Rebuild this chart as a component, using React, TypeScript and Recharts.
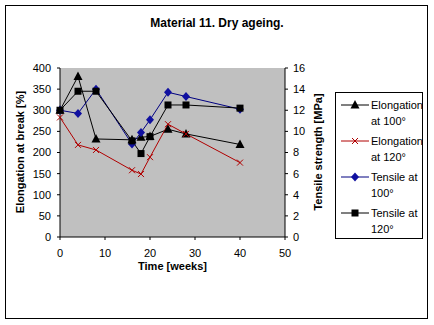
import { CartesianGrid, ComposedChart, Line, XAxis, YAxis } from "recharts";

const weeks = [0, 4, 8, 16, 18, 20, 24, 28, 40];
const elong100 = [300, 380, 232, 230, 236, 238, 255, 244, 219];
const elong120 = [283, 218, 206, 158, 149, 189, 267, 244, 176];
const tensile100 = [12, 11.7, 14.0, 8.8, 9.9, 11.1, 13.7, 13.3, 12.1];
const tensile120 = [12, 13.8, 13.8, 9.1, 7.9, 9.5, 12.5, 12.5, 12.2];

const xTicks = [0, 10, 20, 30, 40, 50];
const leftTicks = [0, 50, 100, 150, 200, 250, 300, 350, 400];
const rightTicks = [0, 2, 4, 6, 8, 10, 12, 14, 16];

const data = weeks.map((w, i) => ({
  week: w,
  e100: elong100[i],
  e120: elong120[i],
  t100: tensile100[i],
  t120: tensile120[i],
}));

const FONT = "'Liberation Sans', Arial, sans-serif";
const TICK = { fill: "#000", fontSize: 11, fontFamily: FONT };
const RED = "#b00000";
const NAVY = "#000080";

type Mark = "tri" | "x" | "diamond" | "square";

function marker(kind: Mark, cx: number, cy: number, key?: string) {
  if (kind === "tri")
    return <path key={key} d={`M${cx},${cy - 5}L${cx + 4.5},${cy + 3.5}L${cx - 4.5},${cy + 3.5}Z`} fill="#000" />;
  if (kind === "x")
    return (
      <path
        key={key}
        d={`M${cx - 3},${cy - 3}L${cx + 3},${cy + 3}M${cx - 3},${cy + 3}L${cx + 3},${cy - 3}`}
        stroke={RED}
        strokeWidth={1}
        fill="none"
      />
    );
  if (kind === "diamond")
    return <path key={key} d={`M${cx},${cy - 4.5}L${cx + 4},${cy}L${cx},${cy + 4.5}L${cx - 4},${cy}Z`} fill="#1010a0" />;
  return <rect key={key} x={cx - 3.5} y={cy - 3.5} width={7} height={7} fill="#000" />;
}

const dot = (kind: Mark) => (p: any) => marker(kind, p.cx, p.cy, `${kind}-${p.index}`);

const legendItems: { label: [string, string]; color: string; kind: Mark }[] = [
  { label: ["Elongation", "at 100°"], color: "#000", kind: "tri" },
  { label: ["Elongation", "at 120°"], color: RED, kind: "x" },
  { label: ["Tensile at", "100°"], color: NAVY, kind: "diamond" },
  { label: ["Tensile at", "120°"], color: "#000", kind: "square" },
];

function LegendBox() {
  return (
    <div
      style={{
        position: "absolute",
        left: 335,
        top: 92,
        width: 88,
        height: 147,
        border: "1px solid #000",
        background: "#fff",
        boxSizing: "border-box",
      }}
    >
      {legendItems.map((it, i) => (
        <div key={i} style={{ position: "absolute", left: 0, top: 4 + i * 36 }}>
          <svg width={30} height={16} style={{ position: "absolute", left: 4, top: 0 }}>
            <line x1={1} y1={8} x2={29} y2={8} stroke={it.color} strokeWidth={1} />
            {marker(it.kind, 15, 8)}
          </svg>
          <div
            style={{
              position: "absolute",
              left: 35,
              top: 0,
              fontFamily: FONT,
              fontSize: 11,
              lineHeight: "16px",
              whiteSpace: "nowrap",
              color: "#000",
            }}
          >
            {it.label[0]}
            <br />
            {it.label[1]}
          </div>
        </div>
      ))}
    </div>
  );
}

export default function App() {
  return (
    <div style={{ position: "absolute", left: 0, top: 0, width: 434, height: 325, background: "#fff" }}>
      <div
        style={{
          position: "absolute",
          left: 5,
          top: 5,
          width: 423,
          height: 314,
          border: "1px solid #000",
          boxSizing: "border-box",
        }}
      />
      <div
        style={{
          position: "absolute",
          left: 0,
          width: 434,
          top: 16,
          textAlign: "center",
          fontFamily: FONT,
          fontWeight: "bold",
          fontSize: 12,
        }}
      >
        Material 11. Dry ageing.
      </div>
      <div style={{ position: "absolute", left: 0, top: 0 }}>
        <ComposedChart width={434} height={325} data={data} margin={{ top: 68, right: 89, left: 0, bottom: 58 }}>
          <CartesianGrid fill="#c0c0c0" horizontal={false} vertical={false} />
          <XAxis
            dataKey="week"
            type="number"
            domain={[0, 50]}
            ticks={xTicks}
            interval={0}
            height={30}
            tick={TICK}
            tickSize={3}
            tickMargin={9}
            stroke="#000"
          />
          <YAxis
            yAxisId="left"
            domain={[0, 400]}
            ticks={leftTicks}
            interval={0}
            width={60}
            tick={TICK}
            tickSize={3}
            tickMargin={6}
            stroke="#000"
          />
          <YAxis
            yAxisId="right"
            orientation="right"
            domain={[0, 16]}
            ticks={rightTicks}
            interval={0}
            width={60}
            tick={{ ...TICK, textAnchor: "start" }}
            tickSize={3}
            tickMargin={5}
            stroke="#000"
          />
          <Line yAxisId="left" dataKey="e100" stroke="#000" strokeWidth={1} dot={dot("tri")} isAnimationActive={false} />
          <Line yAxisId="left" dataKey="e120" stroke={RED} strokeWidth={1} dot={dot("x")} isAnimationActive={false} />
          <Line yAxisId="right" dataKey="t100" stroke={NAVY} strokeWidth={1} dot={dot("diamond")} isAnimationActive={false} />
          <Line yAxisId="right" dataKey="t120" stroke="#000" strokeWidth={1} dot={dot("square")} isAnimationActive={false} />
        </ComposedChart>
      </div>
      <LegendBox />
      <div
        style={{
          position: "absolute",
          left: 60,
          width: 225,
          top: 260,
          textAlign: "center",
          fontFamily: FONT,
          fontWeight: "bold",
          fontSize: 11,
        }}
      >
        Time [weeks]
      </div>
      <div
        style={{
          position: "absolute",
          left: 20,
          top: 152,
          transform: "translate(-50%, -50%) rotate(-90deg)",
          whiteSpace: "nowrap",
          fontFamily: FONT,
          fontWeight: "bold",
          fontSize: 11,
        }}
      >
        Elongation at break [%]
      </div>
      <div
        style={{
          position: "absolute",
          left: 318,
          top: 152,
          transform: "translate(-50%, -50%) rotate(-90deg)",
          whiteSpace: "nowrap",
          fontFamily: FONT,
          fontWeight: "bold",
          fontSize: 11,
        }}
      >
        Tensile strength [MPa]
      </div>
    </div>
  );
}
